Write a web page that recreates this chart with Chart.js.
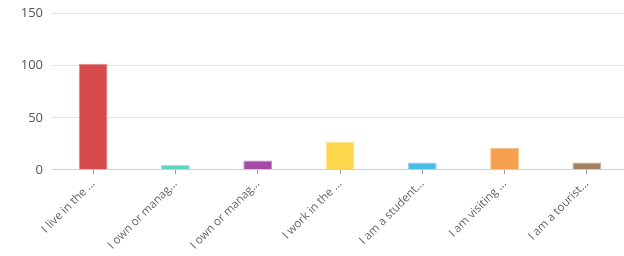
<!DOCTYPE html>
<html>
<head>
<meta charset="utf-8">
<script src="https://cdn.jsdelivr.net/npm/chart.js@4.4.0/dist/chart.umd.min.js"></script>
<style>
  html, body { margin: 0; padding: 0; background: #fff; overflow: hidden; }
  #wrap { width: 628px; height: 256px; position: relative; }
</style>
</head>
<body>
<div id="wrap"><canvas id="chart"></canvas></div>
<script>
// Chart data
const categories = [
    'I live in the ...',
    'I own or manag...',
    'I own or manag...',
    'I work in the ...',
    'I am a student...',
    'I am visiting ...',
    'I am a tourist...'
];
const responses = [102, 5, 9, 27, 7, 21, 7];
const yTicks = [0, 50, 100, 150];

const barColors = ['#d64a4b', '#5fd4b8', '#a24aa4', '#fed64c', '#4bbce3', '#f4a04f', '#a48364'];
const barBorders = ['#e8888a', '#9ee6d4', '#c58ac6', '#ffe690', '#8ed6ef', '#f9c391', '#c6ae98'];

const ctx = document.getElementById('chart').getContext('2d');

new Chart(ctx, {
    type: 'bar',
    data: {
        labels: categories,
        datasets: [{
            data: responses,
            backgroundColor: barColors,
            borderColor: barBorders,
            borderWidth: 1,
            barPercentage: 0.35,
            categoryPercentage: 1
        }]
    },
    options: {
        responsive: true,
        maintainAspectRatio: false,
        animation: false,
        layout: {
            padding: { top: 13.7, right: 0, bottom: 1, left: 0 }
        },
        plugins: {
            legend: { display: false },
            tooltip: { enabled: false }
        },
        scales: {
            x: {
                grid: {
                    offset: false,
                    drawOnChartArea: false,
                    drawTicks: true,
                    tickLength: 4,
                    color: '#999'
                },
                border: { color: '#cfcfcf', width: 1 },
                ticks: {
                    minRotation: 45,
                    maxRotation: 45,
                    color: '#666',
                    padding: 3,
                    font: { family: 'Open Sans', size: 11.5 }
                }
            },
            y: {
                min: 0,
                max: 150,
                // fixed axis width, and no extra top padding from the tick labels
                afterFit: function(scale) {
                    scale.width = 52;
                    scale.paddingTop = 0;
                },
                afterBuildTicks: function(scale) {
                    scale.ticks = yTicks.map(v => ({ value: v }));
                },
                grid: {
                    color: '#e3e3e3',
                    drawTicks: false
                },
                border: { display: false },
                ticks: {
                    color: '#555',
                    padding: 9,
                    font: { family: 'Open Sans', size: 13 }
                }
            }
        }
    }
});
</script>
</body>
</html>
